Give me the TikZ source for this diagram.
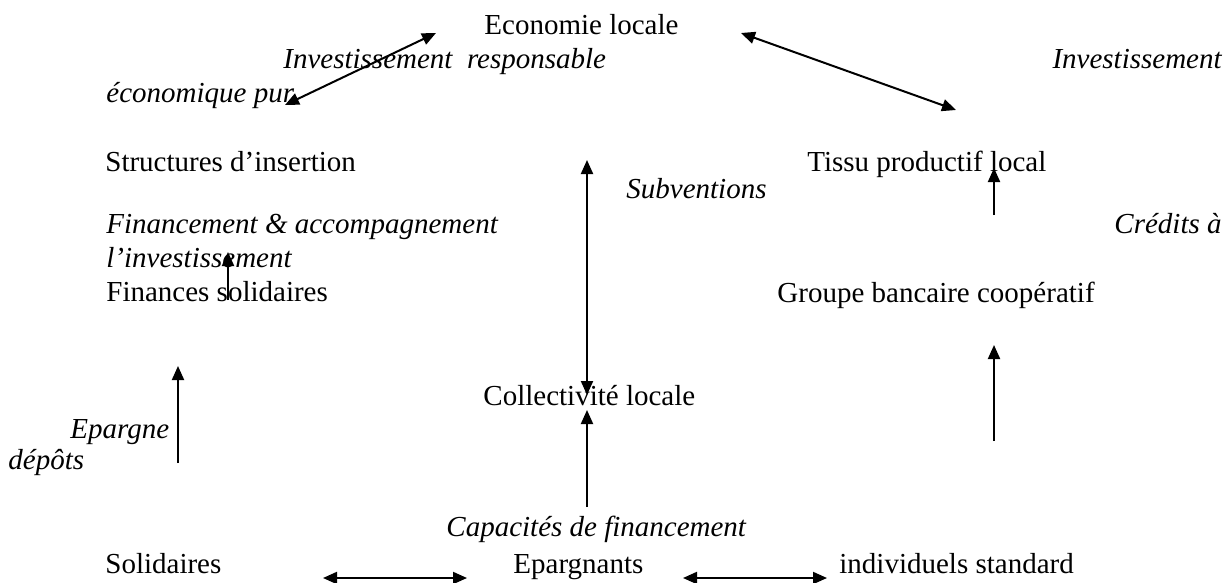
\documentclass[tikz,border=0pt]{standalone}
\usepackage{fontspec}
\setmainfont{Liberation Serif}[ItalicFont={Liberation Serif Italic}]
\usetikzlibrary{arrows.meta}

\begin{document}
\begin{tikzpicture}[x=0.5pt, y=-0.5pt,
  every node/.style={font=\fontsize{14.5}{16}\selectfont, inner sep=0pt, anchor=base west},
  lbl/.style={font=\fontsize{14.5}{16}\selectfont\itshape},
  flow/.style={line width=1pt, -{Triangle[length=7pt,width=6pt]}},
  flows/.style={line width=1pt, {Triangle[length=7pt,width=6pt]}-{Triangle[length=7pt,width=6pt]}}]

\useasboundingbox (0,0) rectangle (1225,583);

\draw (484, 35) node (eco) {Economie locale};
\draw (283, 69) node[lbl] (invresp) {Investissement\ \ responsable};
\draw (1222, 69) node[lbl, anchor=base east] (invpur) {Investissement};
\draw (106, 103) node[lbl] (ecopur) {économique pur};
\draw (105, 171) node (struct) {Structures d'insertion};
\draw (807, 171) node (tissu) {Tissu productif local};
\draw (626, 198) node[lbl] (subv) {Subventions};
\draw (106, 233) node[lbl] (finacc) {Financement \& accompagnement};
\draw (1222, 233) node[lbl, anchor=base east] (credits) {Crédits à};
\draw (106, 267) node[lbl] (linv) {l'investissement};
\draw (106, 301) node (finsol) {Finances solidaires};
\draw (777, 302) node (groupe) {Groupe bancaire coopératif};
\draw (483, 405) node (collect) {Collectivité locale};
\draw (70, 438) node[lbl] (epargne) {Epargne};
\draw (8, 469) node[lbl] (depots) {dépôts};
\draw (446, 536) node[lbl] (capac) {Capacités de financement};
\draw (105, 573) node (solid) {Solidaires};
\draw (513, 573) node (eparg) {Epargnants};
\draw (839, 573) node (indiv) {individuels standard};

\coordinate (d1a) at (285, 105);
\coordinate (d1b) at (436, 33);
\coordinate (d2a) at (741, 33);
\coordinate (d2b) at (956, 110);
\coordinate (v1a) at (587, 160);
\coordinate (v1b) at (587, 395);
\coordinate (t0) at (994, 215);
\coordinate (t1) at (994, 168);
\coordinate (l0) at (228, 300);
\coordinate (l1) at (228, 252);
\coordinate (g0) at (994, 441);
\coordinate (g1) at (994, 345);
\coordinate (f0) at (178, 463);
\coordinate (f1) at (178, 366);
\coordinate (c0) at (587, 507);
\coordinate (c1) at (587, 410);
\coordinate (b1a) at (323, 578);
\coordinate (b1b) at (467, 578);
\coordinate (b2a) at (683, 578);
\coordinate (b2b) at (827, 578);

\draw[flows] (d1a) -- (d1b);
\draw[flows] (d2a) -- (d2b);
\draw[flows] (v1a) -- (v1b);
\draw[flow] (t0) -- (t1);
\draw[flow] (l0) -- (l1);
\draw[flow] (g0) -- (g1);
\draw[flow] (f0) -- (f1);
\draw[flow] (c0) -- (c1);
\draw[flows] (b1a) -- (b1b);
\draw[flows] (b2a) -- (b2b);
\end{tikzpicture}
\end{document}
